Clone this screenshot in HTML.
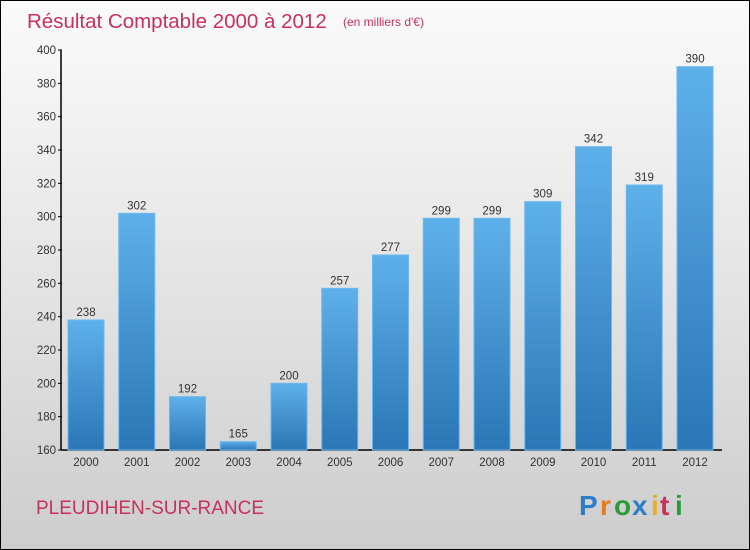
<!DOCTYPE html>
<html><head><meta charset="utf-8"><style>
html,body{margin:0;padding:0;}
body{width:750px;height:550px;overflow:hidden;font-family:"Liberation Sans",sans-serif;}
#frame{position:absolute;left:0;top:0;width:748px;height:548px;border:1px solid #000;background:linear-gradient(#fafafa,#f0f0f0 25%,#cdcdcd);}
</style></head><body>
<div id="frame">
<svg width="750" height="550" style="position:absolute;left:-1px;top:-1px">
<defs>
<linearGradient id="bg" x1="0" y1="0" x2="0" y2="1"><stop offset="0" stop-color="#5eb0ea"/><stop offset="1" stop-color="#2a76b6"/></linearGradient>
</defs>
<text x="27" y="28" font-size="20.5" fill="#c8305e">Résultat Comptable 2000 à 2012</text>
<text x="343" y="26" font-size="12" fill="#c8305e">(en milliers d'€)</text>
<text x="36" y="514" font-size="19" fill="#c8305e">PLEUDIHEN-SUR-RANCE</text>
<g font-size="28" font-weight="bold">
<text x="579" y="515" fill="#2a7fc8">P</text><text x="600" y="515" fill="#e87a20">r</text><text x="614" y="515" fill="#2a9a3a">o</text><text x="632" y="515" fill="#2a7fc8">x</text><text x="651" y="515" fill="#e8b020">i</text><text x="660" y="515" fill="#c8305e">t</text><text x="675" y="515" fill="#2a9a3a">i</text>
</g>
<g id="axes"></g>
<g id="bars"></g>
</svg>
</div>
<script>
const years=["2000","2001","2002","2003","2004","2005","2006","2007","2008","2009","2010","2011","2012"];
const values=[238,302,192,165,200,257,277,299,299,309,342,319,390];
const yTicks=[160,180,200,220,240,260,280,300,320,340,360,380,400];
const NS="http://www.w3.org/2000/svg";
const y=v=>450-(v-160)*400/240;
const xc=i=>86+i*50.75;
function mk(t,a,p){const e=document.createElementNS(NS,t);for(const k in a)e.setAttribute(k,a[k]);p.appendChild(e);return e;}
const ax=document.getElementById('axes'),bg=document.getElementById('bars');
const yl=mk('line',{x1:61,y1:50,x2:61,y2:450,stroke:'#000','stroke-width':1.5},ax);


const xl=mk('line',{x1:61,y1:450,x2:722,y2:450,stroke:'#000','stroke-width':1.5},ax);


yTicks.forEach(v=>{
 mk('line',{x1:58,y1:y(v),x2:62,y2:y(v),stroke:'#000'},ax);
 const t=mk('text',{x:56,y:y(v)+4,'font-size':11.5,fill:'#333','text-anchor':'end'},ax);t.textContent=v;
 
 
});
years.forEach((yr,i)=>{
 const v=values[i];
 const r=mk('rect',{x:xc(i)-18,y:y(v),width:36,height:450-y(v),fill:'url(#bg)',stroke:'#6ab8ee','stroke-width':1},bg);
 
 
 const l=mk('text',{x:xc(i),y:y(v)-4,'font-size':11.5,fill:'#333','text-anchor':'middle'},bg);l.textContent=v;
 
 
 const xt=mk('text',{x:xc(i),y:466,'font-size':11.5,fill:'#333','text-anchor':'middle'},ax);xt.textContent=yr;
 
 
});
</script>
</body></html>
